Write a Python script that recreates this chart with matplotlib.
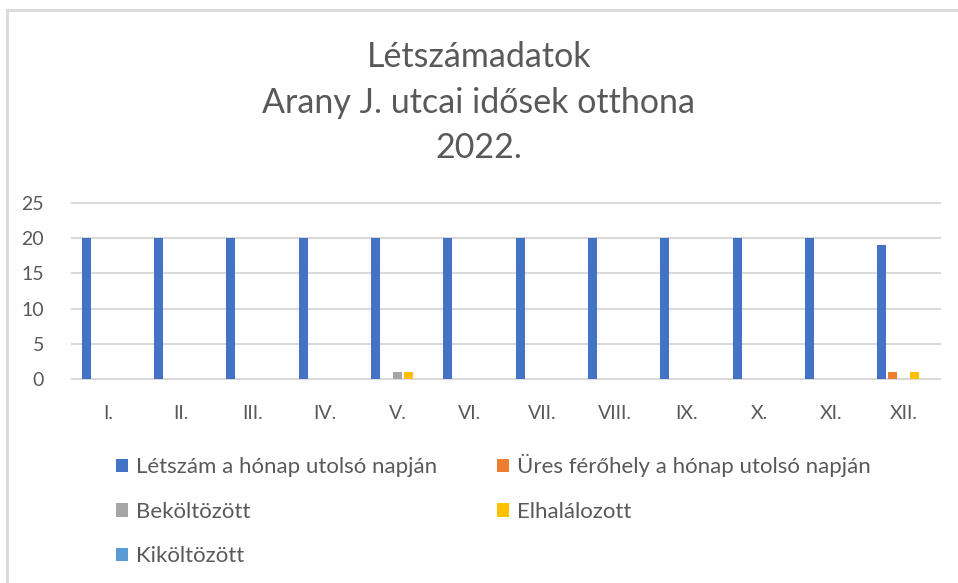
import matplotlib
matplotlib.use("Agg")
import matplotlib.pyplot as plt
import numpy as np
from matplotlib.patches import Patch
from matplotlib.lines import Line2D

months = ["I.", "II.", "III.", "IV.", "V.", "VI.", "VII.", "VIII.", "IX.", "X.", "XI.", "XII."]
letszam = [20, 20, 20, 20, 20, 20, 20, 20, 20, 20, 20, 19]
ures = [0, 0, 0, 0, 0, 0, 0, 0, 0, 0, 0, 1]
bekoltozott = [0, 0, 0, 0, 1, 0, 0, 0, 0, 0, 0, 0]
elhalalozott = [0, 0, 0, 0, 1, 0, 0, 0, 0, 0, 0, 1]
kikoltozott = [0, 0, 0, 0, 0, 0, 0, 0, 0, 0, 0, 0]
series_names = ["Létszám a hónap utolsó napján", "Üres férőhely a hónap utolsó napján",
                "Beköltözött", "Elhalálozott", "Kiköltözött"]
colors = ["#4472C4", "#ED7D31", "#A5A5A5", "#FFC000", "#5B9BD5"]
title_lines = ["Létszámadatok", "Arany J. utcai idősek otthona", "2022."]

FONT = ["Lato", "DejaVu Sans"]
TXT = "#595959"

fig = plt.figure(figsize=(9.58, 5.83), dpi=100)
ax = fig.add_axes([72/958, 1-379/583, (940-72)/958, (379-203)/583])

x = np.arange(len(months))
slot = 0.152
width = 0.125
all_series = [letszam, ures, bekoltozott, elhalalozott, kikoltozott]
for i, (vals, c) in enumerate(zip(all_series, colors)):
    ax.bar(x + (i - 2) * slot, vals, width=width, color=c, zorder=3, linewidth=0)

ax.set_xlim(-0.5, len(months) - 0.5)
ax.set_ylim(0, 25)
ax.set_yticks([0, 5, 10, 15, 20, 25])
ax.set_xticks(x)
ax.set_xticklabels(months)
ax.grid(axis="y", color="#D9D9D9", linewidth=1.5, zorder=0)
for gl in ax.get_ygridlines():
    gl.set_clip_on(False)
for s in ax.spines.values():
    s.set_visible(False)
ax.tick_params(length=0, labelcolor=TXT, labelsize=14)
ax.tick_params(axis="y", pad=20)
ax.tick_params(axis="x", pad=19)
for lab in ax.get_xticklabels() + ax.get_yticklabels():
    lab.set_fontfamily(FONT)

for t, yp in zip(title_lines, [57, 103, 148]):
    fig.text(0.5, 1-yp/583, t, ha="center", va="center", fontsize=24.5, color=TXT, family=FONT)

order = [0, 2, 4, 1, 3]
handles = [Patch(facecolor=colors[i], edgecolor="none") for i in order]
labels = [series_names[i] for i in order]
leg = fig.legend(handles, labels, ncol=2, loc="upper left",
                 bbox_to_anchor=(105/958, 1-443/583), frameon=False, borderpad=0,
                 prop={"family": FONT, "size": 16}, labelcolor=TXT,
                 handlelength=0.55, handleheight=0.55, handletextpad=0.35,
                 columnspacing=2.7, labelspacing=1.1)

# outer frame
fig.add_artist(Line2D([7/958, 7/958], [0, 1-10/583], transform=fig.transFigure, color="#D9D9D9", linewidth=2))
fig.add_artist(Line2D([7/958, 1], [1-10/583, 1-10/583], transform=fig.transFigure, color="#D9D9D9", linewidth=2))

fig.savefig("out.png", dpi=100)
